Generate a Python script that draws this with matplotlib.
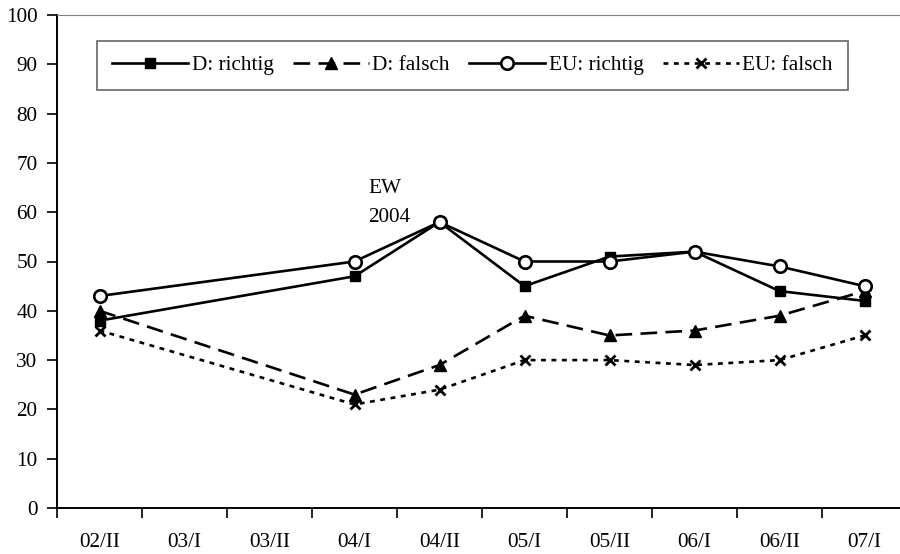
import matplotlib.pyplot as plt
import numpy as np

plt.rcParams['font.family'] = ['Liberation Serif', 'DejaVu Serif']
plt.rcParams['lines.scale_dashes'] = False

categories = ['02/II', '03/I', '03/II', '04/I', '04/II', '05/I', '05/II', '06/I', '06/II', '07/I']
nan = np.nan
d_richtig = [38, nan, nan, 47, 58, 45, 51, 52, 44, 42]
d_falsch = [40, nan, nan, 23, 29, 39, 35, 36, 39, 44]
eu_richtig = [43, nan, nan, 50, 58, 50, 50, 52, 49, 45]
eu_falsch = [36, nan, nan, 21, 24, 30, 30, 29, 30, 35]

fs = 15.3

fig = plt.figure(figsize=(9, 5.54), dpi=100)
ax = fig.add_axes([57 / 900, 46 / 554, 850 / 900, 493 / 554])

x = np.arange(len(categories))


def draw(vals, **kw):
    v = np.array(vals, dtype=float)
    ok = ~np.isnan(v)
    ax.plot(x[ok], v[ok], color='black', linewidth=1.9, **kw)


draw(d_richtig, marker='s', markersize=7, linestyle='-', label='D: richtig')
draw(d_falsch, marker='^', markersize=8, dashes=(12, 6), label='D: falsch')
draw(eu_richtig, marker='o', markersize=9, markerfacecolor='white',
     markeredgewidth=1.9, linestyle='-', label='EU: richtig')
draw(eu_falsch, marker='x', markersize=7, markeredgewidth=2.0, dashes=(3.5, 4), label='EU: falsch')

ax.set_xlim(-0.5, 9.5)
ax.set_ylim(0, 100)
ax.set_yticks(np.arange(0, 101, 10))
ax.set_xticks(x)
ax.set_xticklabels(categories)
ax.set_xticks(np.arange(-0.5, 10, 1), minor=True)
ax.tick_params(axis='x', which='major', length=0, pad=18, labelsize=fs)
ax.tick_params(axis='x', which='minor', length=7, width=1.2, direction='out')
ax.tick_params(axis='y', length=7, width=1.2, direction='out', pad=7, labelsize=fs)

ax.spines['top'].set_color('#808080')
ax.spines['right'].set_color('#808080')
ax.spines['left'].set_linewidth(1.4)
ax.spines['bottom'].set_linewidth(1.4)

ax.text(3.16, 64.8, 'EW', fontsize=fs, va='center', ha='left')
ax.text(3.16, 59.0, '2004', fontsize=fs, va='center', ha='left')

leg = ax.legend(loc='upper left', bbox_to_anchor=(0.047, 0.948), ncol=4,
                fontsize=fs, frameon=True, fancybox=False, handlelength=3.6,
                handletextpad=0.15, columnspacing=0.9, borderpad=0.7,
                borderaxespad=0)
leg.get_frame().set_edgecolor('#404040')
leg.get_frame().set_linewidth(1.2)

fig.savefig('out.png', dpi=100)
